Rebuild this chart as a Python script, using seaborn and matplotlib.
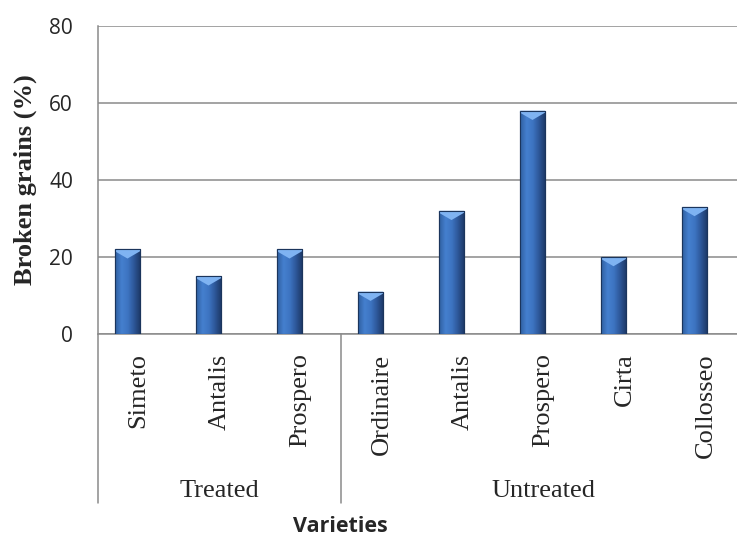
import matplotlib
matplotlib.use("Agg")
import matplotlib.pyplot as plt
import matplotlib.transforms as mtransforms
from matplotlib.patches import Polygon
from matplotlib.colors import LinearSegmentedColormap
import numpy as np
import pandas as pd
import seaborn as sns

# data
varieties = ["Simeto", "Antalis", "Prospero", "Ordinaire", "Antalis", "Prospero", "Cirta", "Collosseo"]
groups = ["Treated", "Treated", "Treated", "Untreated", "Untreated", "Untreated", "Untreated", "Untreated"]
broken = [22, 15, 22, 11, 32, 58, 20, 33]
group_names = ["Treated", "Untreated"]
y_ticks = [0, 20, 40, 60, 80]

df = pd.DataFrame({
    "pos": [str(i) for i in range(len(varieties))],
    "variety": varieties,
    "group": groups,
    "broken": broken,
})

sns.set_style("white")
serif = ["Liberation Serif", "DejaVu Serif"]
sans = ["Open Sans", "DejaVu Sans"]

fig = plt.figure(figsize=(7.37, 5.36), dpi=100)
# plot area runs a little past the right edge of the picture, as in the original crop
ax = fig.add_axes([98 / 737, 1 - 334 / 536, 648 / 737, 308 / 536])

sns.barplot(data=df, x="pos", y="broken", color="#3c73c2", width=0.31,
            edgecolor="#1b355c", linewidth=0.8, ax=ax, zorder=3)

# bars sit slightly left of the category centre in the original
shift = -0.136
grad = np.linspace(0, 1, 64)[None, :]
cmap = LinearSegmentedColormap.from_list(
    "bevel", ["#2f5f9f", "#4580cf", "#3d74c1", "#2c5596", "#1c3763"])
for p in list(ax.patches):
    p.set_x(p.get_x() + shift)
    x0, y0 = p.get_x(), p.get_y()
    w, h = p.get_width(), p.get_height()
    im = ax.imshow(grad, extent=(x0, x0 + w, y0, y0 + h), aspect="auto",
                   cmap=cmap, zorder=3.5, interpolation="bicubic")
    im.set_clip_path(p)
    xc = x0 + w / 2
    top = y0 + h
    cap = Polygon([(x0, top), (x0 + w, top), (x0 + w, top - 0.5),
                   (xc, top - 2.4), (x0, top - 0.5)],
                  closed=True, facecolor="#7fb3f2", edgecolor="none", zorder=4)
    ax.add_patch(cap)
    edge = plt.Rectangle((x0, y0), w, h, fill=False, edgecolor="#1b355c",
                         linewidth=0.8, zorder=4.5)
    ax.add_patch(edge)

ax.set_xlim(-0.5, len(varieties) - 0.5)
ax.set_ylim(0, 80)
ax.set_yticks(y_ticks)
ax.set_yticklabels([str(v) for v in y_ticks], family=sans, fontsize=15)
ax.grid(axis="y", color="#8a8a8a", linewidth=1.1, zorder=0)
ax.set_axisbelow(True)

for side in ["top", "right", "bottom"]:
    ax.spines[side].set_visible(False)
ax.spines["left"].set_color("#8a8a8a")
ax.spines["left"].set_linewidth(1.1)
ax.axhline(0, color="#8a8a8a", linewidth=1.1, zorder=2, clip_on=False)

ax.tick_params(axis="y", length=8, width=1.1, color="#8a8a8a", pad=10)
ax.tick_params(axis="x", length=0, pad=14)
ax.set_xticks(range(len(varieties)))
ax.set_xticklabels(varieties, rotation=90, family=serif, fontsize=19)

ax.set_xlabel("")
ax.set_ylabel("")

# group separators and group labels under the category labels
trans = mtransforms.blended_transform_factory(ax.transData, ax.transAxes)
bounds = [-0.5, 2.5, len(varieties) - 0.5]
for b in bounds:
    ax.plot([b, b], [0, -0.55], transform=trans, color="#8a8a8a",
            linewidth=1.1, clip_on=False)
counts = [groups.count(g) for g in group_names]
start = 0
for g, n in zip(group_names, counts):
    ax.text(start + (n - 1) / 2, -0.51, g, transform=trans, ha="center",
            va="center", family=serif, fontsize=19)
    start += n

fig.text(25 / 737, 1 - 180 / 536, "Broken grains (%)", rotation=90,
         ha="center", va="center", family=serif, fontweight="bold", fontsize=19)
fig.text(340 / 737, 1 - 527 / 536, "Varieties", ha="center", va="center",
         family=sans, fontweight="bold", fontsize=15.5)

fig.savefig("out.png", dpi=100)
